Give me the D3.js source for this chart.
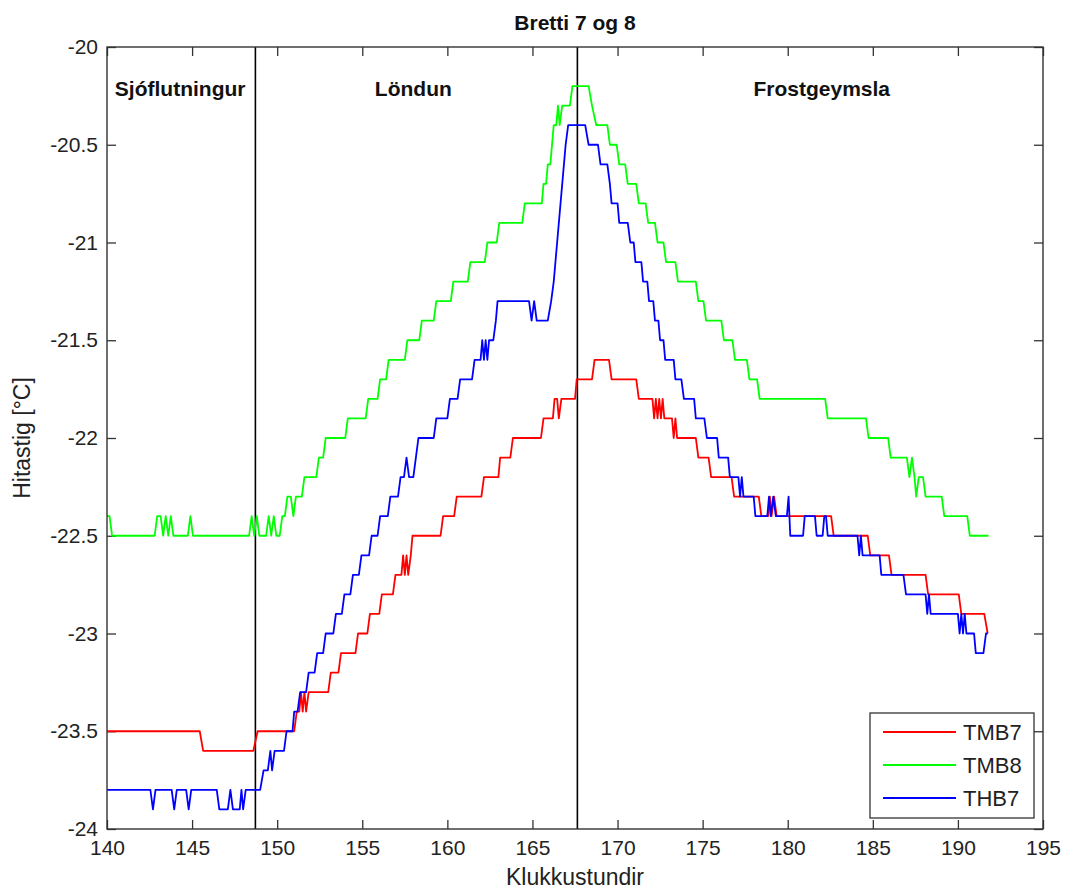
<!DOCTYPE html>
<html><head><meta charset="utf-8">
<script src="https://cdn.jsdelivr.net/npm/d3@7"></script>
<style>
body{margin:0;background:#fff;}
svg{display:block;}
text{font-family:"Liberation Sans",Arial,Helvetica,sans-serif;fill:#222;}
</style>
</head><body>
<svg id="chart" width="1065" height="890"></svg>
<script>
// ---------------- data ----------------
const title = "Bretti 7 og 8";
const xLabel = "Klukkustundir";
const yLabel = "Hitastig [\u00B0C]";
const xTicks = [140,145,150,155,160,165,170,175,180,185,190,195];
const yTicks = [-20,-20.5,-21,-21.5,-22,-22.5,-23,-23.5,-24];
const yTickLabels = ["-20","-20.5","-21","-21.5","-22","-22.5","-23","-23.5","-24"];
const seriesNames = ["TMB7","TMB8","THB7"];
const seriesColors = ["#ff0000","#00ff00","#0000ff"];
const phaseBounds = [148.72, 167.64];
const phaseNames = ["Sjóflutningur","Löndun","Frostgeymsla"];
const phaseLabelX = [144.3, 158.0, 182.0];

// TMB7 (red) [hours, °C]
const tmb7 = [[140,-23.5],[145.45,-23.5],[145.65,-23.6],[148.6,-23.6],[148.85,-23.5],[151.0,-23.5],[151.15,-23.4],[151.3,-23.4],[151.4,-23.3],[151.5,-23.4],[151.6,-23.3],[151.7,-23.4],[151.85,-23.3],[153.0,-23.3],[153.15,-23.2],[153.6,-23.2],[153.75,-23.1],[154.6,-23.1],[154.75,-23.0],[155.3,-23.0],[155.45,-22.9],[156.0,-22.9],[156.15,-22.8],[156.8,-22.8],[156.95,-22.7],[157.3,-22.7],[157.4,-22.6],[157.5,-22.7],[157.6,-22.6],[157.7,-22.7],[157.85,-22.6],[157.95,-22.5],[159.6,-22.5],[159.75,-22.4],[160.4,-22.4],[160.55,-22.3],[162.0,-22.3],[162.15,-22.2],[163.0,-22.2],[163.1,-22.1],[163.7,-22.1],[163.85,-22.0],[165.5,-22.0],[165.65,-21.9],[166.2,-21.9],[166.3,-21.8],[166.45,-21.8],[166.55,-21.9],[166.7,-21.8],[167.5,-21.8],[167.6,-21.7],[168.5,-21.7],[168.65,-21.6],[169.5,-21.6],[169.65,-21.7],[171.1,-21.7],[171.25,-21.8],[172.05,-21.8],[172.15,-21.9],[172.25,-21.8],[172.35,-21.9],[172.45,-21.8],[172.55,-21.9],[172.65,-21.8],[172.75,-21.9],[173.2,-21.9],[173.3,-22.0],[173.4,-21.9],[173.5,-22.0],[174.6,-22.0],[174.75,-22.1],[175.35,-22.1],[175.5,-22.2],[176.7,-22.2],[176.85,-22.3],[178.3,-22.3],[178.45,-22.4],[178.85,-22.4],[178.95,-22.3],[179.05,-22.4],[179.2,-22.3],[179.35,-22.4],[182.55,-22.4],[182.7,-22.5],[184.7,-22.5],[184.85,-22.6],[185.95,-22.6],[186.1,-22.7],[188.1,-22.7],[188.25,-22.8],[190.05,-22.8],[190.2,-22.9],[191.55,-22.9],[191.75,-23.0]];

// TMB8 (green)
const tmb8 = [[140,-22.4],[140.15,-22.4],[140.3,-22.5],[142.8,-22.5],[142.95,-22.4],[143.15,-22.4],[143.3,-22.5],[143.45,-22.4],[143.6,-22.5],[143.75,-22.4],[143.9,-22.5],[144.75,-22.5],[144.9,-22.4],[145.05,-22.5],[148.35,-22.5],[148.5,-22.4],[148.65,-22.5],[148.8,-22.4],[148.95,-22.5],[149.35,-22.5],[149.5,-22.4],[149.65,-22.5],[149.8,-22.4],[149.95,-22.5],[150.15,-22.5],[150.3,-22.4],[150.45,-22.4],[150.6,-22.3],[150.8,-22.3],[150.95,-22.4],[151.1,-22.3],[151.45,-22.3],[151.6,-22.2],[152.3,-22.2],[152.45,-22.1],[152.7,-22.1],[152.85,-22.0],[154.0,-22.0],[154.15,-21.9],[155.2,-21.9],[155.35,-21.8],[155.9,-21.8],[156.05,-21.7],[156.4,-21.7],[156.55,-21.6],[157.5,-21.6],[157.65,-21.5],[158.35,-21.5],[158.5,-21.4],[159.2,-21.4],[159.35,-21.3],[160.2,-21.3],[160.35,-21.2],[161.2,-21.2],[161.35,-21.1],[162.2,-21.1],[162.35,-21.0],[162.9,-21.0],[163.05,-20.9],[164.4,-20.9],[164.55,-20.8],[165.55,-20.8],[165.65,-20.7],[165.8,-20.7],[165.9,-20.6],[166.05,-20.6],[166.15,-20.5],[166.25,-20.4],[166.4,-20.4],[166.5,-20.3],[166.6,-20.4],[166.75,-20.3],[167.2,-20.3],[167.35,-20.2],[168.3,-20.2],[168.5,-20.3],[168.75,-20.4],[169.4,-20.4],[169.55,-20.5],[169.95,-20.5],[170.1,-20.6],[170.45,-20.6],[170.6,-20.7],[171.1,-20.7],[171.25,-20.8],[171.65,-20.8],[171.8,-20.9],[172.2,-20.9],[172.35,-21.0],[172.7,-21.0],[172.85,-21.1],[173.4,-21.1],[173.55,-21.2],[174.6,-21.2],[174.75,-21.3],[175.05,-21.3],[175.2,-21.4],[176.1,-21.4],[176.25,-21.5],[176.75,-21.5],[176.9,-21.6],[177.6,-21.6],[177.75,-21.7],[178.2,-21.7],[178.35,-21.8],[182.2,-21.8],[182.35,-21.9],[184.6,-21.9],[184.75,-22.0],[185.9,-22.0],[186.05,-22.1],[187.0,-22.1],[187.15,-22.2],[187.3,-22.1],[187.45,-22.2],[187.55,-22.3],[187.7,-22.2],[187.95,-22.2],[188.1,-22.3],[189.05,-22.3],[189.2,-22.4],[190.55,-22.4],[190.7,-22.5],[191.8,-22.5]];

// THB7 (blue)
const thb7 = [[140,-23.8],[142.55,-23.8],[142.7,-23.9],[142.85,-23.8],[143.8,-23.8],[143.95,-23.9],[144.1,-23.8],[144.65,-23.8],[144.8,-23.9],[144.95,-23.8],[146.45,-23.8],[146.6,-23.9],[147.1,-23.9],[147.25,-23.8],[147.4,-23.9],[147.8,-23.9],[147.9,-23.8],[148.0,-23.9],[148.15,-23.8],[149.0,-23.8],[149.2,-23.7],[149.45,-23.7],[149.6,-23.6],[149.7,-23.7],[149.85,-23.6],[150.4,-23.6],[150.55,-23.5],[150.9,-23.5],[151.0,-23.4],[151.2,-23.4],[151.35,-23.3],[151.7,-23.3],[151.85,-23.2],[152.2,-23.2],[152.35,-23.1],[152.7,-23.1],[152.85,-23.0],[153.3,-23.0],[153.45,-22.9],[153.8,-22.9],[153.95,-22.8],[154.3,-22.8],[154.45,-22.7],[154.8,-22.7],[154.95,-22.6],[155.4,-22.6],[155.55,-22.5],[155.9,-22.5],[156.05,-22.4],[156.5,-22.4],[156.65,-22.3],[157.1,-22.3],[157.25,-22.2],[157.45,-22.2],[157.6,-22.1],[157.75,-22.2],[158.0,-22.2],[158.15,-22.1],[158.3,-22.0],[159.2,-22.0],[159.35,-21.9],[160.0,-21.9],[160.15,-21.8],[160.6,-21.8],[160.75,-21.7],[161.45,-21.7],[161.6,-21.6],[161.95,-21.6],[162.05,-21.5],[162.15,-21.6],[162.25,-21.5],[162.35,-21.6],[162.45,-21.5],[162.7,-21.5],[162.85,-21.4],[162.95,-21.3],[164.8,-21.3],[164.95,-21.4],[165.1,-21.3],[165.25,-21.4],[165.9,-21.4],[166.1,-21.3],[166.25,-21.2],[166.35,-21.1],[166.45,-21.0],[166.55,-20.9],[166.65,-20.8],[166.75,-20.7],[166.85,-20.6],[166.95,-20.5],[167.1,-20.4],[168.1,-20.4],[168.3,-20.5],[168.85,-20.5],[169.0,-20.6],[169.4,-20.6],[169.55,-20.7],[169.65,-20.8],[170.0,-20.8],[170.1,-20.9],[170.6,-20.9],[170.75,-21.0],[170.95,-21.0],[171.05,-21.1],[171.4,-21.1],[171.5,-21.2],[171.75,-21.2],[171.85,-21.3],[172.1,-21.3],[172.2,-21.4],[172.4,-21.4],[172.5,-21.5],[172.7,-21.5],[172.8,-21.6],[173.3,-21.6],[173.4,-21.7],[173.75,-21.7],[173.9,-21.8],[174.5,-21.8],[174.6,-21.9],[175.1,-21.9],[175.25,-22.0],[175.85,-22.0],[175.95,-22.1],[176.5,-22.1],[176.6,-22.2],[177.1,-22.2],[177.2,-22.3],[177.3,-22.2],[177.4,-22.3],[178.0,-22.3],[178.1,-22.4],[178.8,-22.4],[178.9,-22.3],[179.0,-22.4],[179.15,-22.3],[179.3,-22.4],[179.95,-22.4],[180.05,-22.3],[180.15,-22.5],[180.9,-22.5],[181.0,-22.4],[181.6,-22.4],[181.7,-22.5],[182.05,-22.5],[182.15,-22.4],[182.25,-22.4],[182.35,-22.5],[184.1,-22.5],[184.2,-22.6],[184.3,-22.5],[184.4,-22.6],[185.4,-22.6],[185.5,-22.7],[186.8,-22.7],[186.95,-22.8],[188.1,-22.8],[188.2,-22.9],[188.3,-22.8],[188.4,-22.9],[190.0,-22.9],[190.1,-23.0],[190.2,-22.9],[190.3,-23.0],[190.4,-22.9],[190.5,-23.0],[190.95,-23.0],[191.05,-23.1],[191.5,-23.1],[191.65,-23.0],[191.75,-23.0]];

const seriesData = [tmb7, tmb8, thb7];

// ---------------- drawing ----------------
const svg = d3.select("#chart");
const L = 107, R = 1043, T = 47, B = 829;
const x = d3.scaleLinear().domain([140,195]).range([L,R]);
const y = d3.scaleLinear().domain([-24,-20]).range([B,T]);
const FS = 21;

svg.append("rect").attr("x",0).attr("y",0).attr("width",1065).attr("height",890).attr("fill","#fff");

// axes (ticks pointing inward on all four sides)
const gx = svg.append("g").attr("transform",`translate(0,${B})`)
  .call(d3.axisBottom(x).tickValues(xTicks).tickSize(-9).tickPadding(11).tickFormat(d3.format("d")));
const gxt = svg.append("g").attr("transform",`translate(0,${T})`)
  .call(d3.axisTop(x).tickValues(xTicks).tickSize(-9).tickFormat(""));
const gy = svg.append("g").attr("transform",`translate(${L},0)`)
  .call(d3.axisLeft(y).tickValues(yTicks).tickSize(-9).tickPadding(9).tickFormat((d,i)=>yTickLabels[i]));
const gyr = svg.append("g").attr("transform",`translate(${R},0)`)
  .call(d3.axisRight(y).tickValues(yTicks).tickSize(-9).tickFormat(""));
[gx,gxt,gy,gyr].forEach(g=>{
  g.select(".domain").remove();
  g.selectAll(".tick line").attr("stroke","#333").attr("stroke-width",1.3);
  g.selectAll(".tick text").attr("font-size",FS).attr("font-family","'Liberation Sans',Arial,sans-serif").attr("fill","#222");
});

// phase separators
svg.append("g").selectAll("line").data(phaseBounds).join("line")
  .attr("x1",d=>x(d)).attr("x2",d=>x(d)).attr("y1",T).attr("y2",B)
  .attr("stroke","#000").attr("stroke-width",1.6);

// series
const line = d3.line().x(d=>x(d[0])).y(d=>y(d[1]));
svg.append("g").selectAll("path").data(seriesData).join("path")
  .attr("d",line).attr("fill","none")
  .attr("stroke",(d,i)=>seriesColors[i]).attr("stroke-width",1.8)
  .attr("stroke-linejoin","round");

// frame
svg.append("rect").attr("x",L).attr("y",T).attr("width",R-L).attr("height",B-T)
  .attr("fill","none").attr("stroke","#333").attr("stroke-width",1.4);

// phase labels
svg.append("g").selectAll("text").data(phaseNames).join("text")
  .attr("x",(d,i)=>x(phaseLabelX[i])).attr("y",96)
  .attr("text-anchor","middle").attr("font-family","Lato,'Open Sans',sans-serif")
  .attr("font-weight","bold").attr("font-size",21).style("fill","#111")
  .text(d=>d);

// title and axis labels
svg.append("text").attr("x",(L+R)/2).attr("y",30).attr("text-anchor","middle")
  .attr("font-weight","bold").attr("font-size",21).style("fill","#111").text(title);
svg.append("text").attr("x",(L+R)/2).attr("y",885).attr("text-anchor","middle")
  .attr("font-size",23).text(xLabel);
svg.append("text").attr("transform",`translate(30,${(T+B)/2}) rotate(-90)`)
  .attr("text-anchor","middle").attr("font-size",23).text(yLabel);

// legend
const lg = svg.append("g");
lg.append("rect").attr("x",870).attr("y",713).attr("width",164).attr("height",105)
  .attr("fill","#fff").attr("stroke","#333").attr("stroke-width",1.3);
const rows = lg.selectAll("g.row").data(seriesNames).join("g").attr("class","row")
  .attr("transform",(d,i)=>`translate(0,${732+i*33})`);
rows.append("line").attr("x1",883).attr("x2",956).attr("y1",0).attr("y2",0)
  .attr("stroke",(d,i)=>seriesColors[i]).attr("stroke-width",1.8);
rows.append("text").attr("x",963).attr("y",8).attr("font-size",22).text(d=>d);
</script>
</body></html>
